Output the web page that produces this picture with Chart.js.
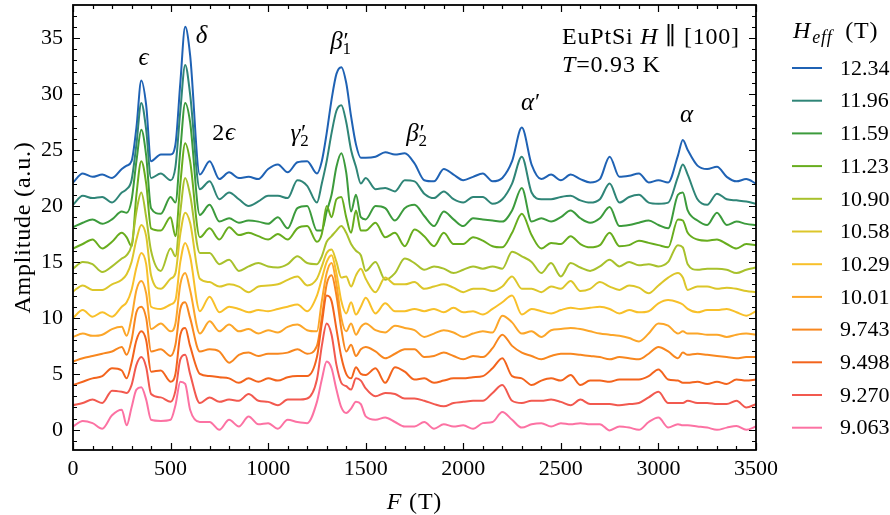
<!DOCTYPE html>
<html>
<head>
<meta charset="utf-8">
<script src="https://cdn.jsdelivr.net/npm/chart.js@4.4.0/dist/chart.umd.min.js"></script>
<style>
  html, body { margin: 0; padding: 0; background: #fff; }
</style>
</head>
<body>
<canvas id="fftChart" width="890" height="515"></canvas>
<script>
// frequency grid (T)
const freqs = [0, 50, 100, 150, 200, 250, 275, 300, 325, 350, 375, 400, 450, 500, 525, 550, 575, 600,
  650, 700, 750, 800, 850, 900, 950, 1000, 1050, 1100, 1150, 1200, 1250,
  1275, 1300, 1325, 1350, 1375, 1400, 1425, 1450, 1475, 1500,
  1550, 1600, 1650, 1700, 1750, 1800, 1850, 1900, 1950, 2000, 2050, 2100, 2150, 2200, 2250, 2300,
  2350, 2400, 2450, 2500, 2550, 2600, 2650, 2700, 2750, 2800, 2850, 2900, 2950, 3000, 3050, 3100,
  3125, 3150, 3200, 3250, 3300, 3350, 3400, 3450, 3500];

// field labels (legend)
const fields = ['12.34', '11.96', '11.59', '11.23', '10.90', '10.58', '10.29', '10.01', '9.743', '9.498', '9.270', '9.063'];
const colors = ['#1f62b4', '#2f8577', '#3c9b3c', '#68ad1e', '#a8c12c', '#dcc62a', '#f8c02a', '#fca629', '#f8871f', '#f3641d', '#f2594f', '#fc72a3'];

// FFT amplitudes (a.u., with vertical offsets as plotted)
const amp1234 = [22.1, 22.9, 22.6, 22.8, 22.5, 23.3, 23.6, 24.0, 27.0, 31.2, 29.0, 24.0, 24.6, 24.6, 25.5, 31.0, 36.0, 33.5,
  22.8, 24.0, 22.4, 23.0, 22.5, 22.6, 22.4, 23.3, 23.7, 23.0, 23.9, 24.0, 22.9,
  24.0, 26.5, 29.5, 31.8, 32.4, 31.0, 28.0, 25.5, 24.3, 24.3,
  24.4, 24.8, 24.6, 24.7, 23.8, 22.3, 22.2, 23.3, 22.8, 22.3, 22.6, 22.9, 22.2, 22.5, 24.0, 27.0,
  23.7, 22.4, 22.8, 22.3, 22.8, 22.4, 22.1, 22.4, 24.4, 22.6, 22.7, 22.9, 22.1, 22.3, 22.1, 24.5,
  25.9, 25.0, 23.6, 23.3, 23.5, 22.6, 22.2, 22.4, 22.0];
const amp1196 = [20.1, 20.9, 20.7, 20.8, 20.3, 21.2, 21.5, 22.3, 25.5, 29.2, 26.8, 22.5, 22.9, 22.3, 23.5, 28.5, 32.6, 30.0,
  21.5, 22.2, 20.6, 21.2, 20.6, 20.0, 20.4, 20.9, 20.9, 20.7, 22.3, 21.8, 20.3,
  22.0, 24.0, 26.5, 28.5, 29.0, 27.5, 25.0, 23.5, 22.0, 22.5,
  21.5, 21.6, 21.3, 22.3, 22.2, 21.1, 20.7, 21.3, 20.6, 20.3, 20.8, 20.8, 20.2, 20.6, 22.0, 24.4,
  21.2, 20.6, 20.6, 20.8, 20.9, 20.5, 20.3, 20.6, 22.0, 20.3, 20.8, 21.0, 20.3, 20.2, 20.3, 22.6,
  23.7, 22.8, 20.6, 20.1, 21.1, 20.6, 20.5, 20.4, 20.2];
const amp1159 = [18.1, 18.5, 18.8, 18.4, 18.8, 19.5, 19.4, 20.5, 24.0, 26.8, 24.5, 19.8, 19.3, 20.8, 20.3, 25.0, 29.2, 27.5,
  19.2, 20.1, 18.6, 18.9, 18.5, 18.7, 18.6, 18.4, 19.0, 18.0, 19.8, 20.0, 17.8,
  17.8, 19.5, 21.0, 23.5, 24.7, 23.0, 19.5, 21.0, 19.0, 18.8,
  20.0, 19.8, 18.7, 19.8, 20.1, 19.1, 18.2, 19.5, 18.8, 18.2, 18.9, 18.8, 18.7, 18.6, 19.6, 21.6,
  18.6, 18.9, 18.6, 19.0, 19.6, 18.9, 18.5, 18.9, 19.9, 18.2, 18.3, 18.5, 18.7, 18.3, 18.0, 21.0,
  21.2, 19.6, 18.7, 18.3, 19.4, 18.3, 18.6, 18.4, 18.3];
const amp1123 = [16.2, 16.6, 17.0, 16.2, 16.8, 17.6, 17.2, 16.4, 21.0, 24.0, 22.0, 18.0, 17.8, 19.0, 17.3, 22.0, 25.6, 24.0,
  17.2, 18.0, 17.0, 18.1, 17.4, 17.6, 17.3, 17.0, 17.5, 17.0, 18.0, 18.2, 16.8,
  17.5, 20.0, 19.0, 20.6, 20.8, 19.0, 17.6, 19.6, 17.8, 17.8,
  18.5, 17.2, 17.6, 16.4, 17.9, 17.3, 16.4, 17.6, 16.6, 16.6, 17.2, 16.9, 16.4, 16.3, 17.6, 19.3,
  17.4, 16.2, 16.7, 16.6, 17.3, 16.6, 16.3, 16.5, 17.6, 16.4, 16.5, 16.9, 16.7, 16.5, 16.3, 18.8,
  18.7, 17.6, 17.0, 16.9, 17.0, 16.6, 16.2, 16.6, 16.5];
const amp1090 = [14.4, 15.0, 14.8, 14.1, 14.6, 15.3, 15.6, 16.5, 19.5, 21.2, 19.0, 16.0, 14.2, 16.2, 15.5, 19.5, 22.5, 21.0,
  15.8, 15.8, 14.8, 15.2, 14.2, 14.6, 14.9, 14.6, 14.5, 14.8, 15.5, 14.9, 14.8,
  15.5, 16.8, 17.3, 17.8, 18.2, 17.6, 16.6, 16.0, 15.6, 14.2,
  15.0, 13.4, 14.0, 15.3, 14.9, 14.3, 14.6, 14.4, 14.0, 14.3, 14.6, 14.4, 14.6, 14.4, 15.9, 15.5,
  15.0, 14.0, 14.9, 13.7, 14.9, 14.5, 14.2, 14.6, 15.2, 14.6, 15.0, 14.7, 14.8, 14.6, 15.0, 16.5,
  16.3, 14.8, 14.3, 14.4, 14.4, 14.3, 14.0, 14.3, 14.5];
const amp1058 = [12.35, 12.9, 12.5, 12.5, 13.0, 13.4, 13.9, 15.0, 17.0, 18.3, 17.3, 13.8, 12.6, 13.5, 14.0, 17.5, 19.4, 18.5,
  13.5, 13.2, 12.8, 13.0, 12.8, 12.3, 12.8, 12.9, 13.0, 13.4, 13.7, 12.9, 13.5,
  14.6, 15.8, 16.1, 15.0, 13.6, 13.7, 12.8, 13.8, 14.4, 13.5,
  12.3, 13.6, 13.0, 13.0, 13.2, 12.6, 12.8, 13.0, 12.7, 12.3, 12.6, 12.6, 12.4, 12.8, 13.7, 12.6,
  12.6, 12.3, 12.8, 12.6, 13.3, 12.4, 12.6, 13.2, 12.8, 12.5, 12.9, 12.7, 12.2, 12.9, 13.6, 14.0,
  13.6, 12.5, 12.8, 12.8, 12.6, 12.7, 12.6, 12.4, 12.3];
const amp1029 = [10.0, 10.7, 10.1, 10.5, 10.1, 11.0, 11.4, 12.5, 14.5, 15.8, 14.8, 11.0, 10.8, 11.2, 11.6, 15.0, 16.7, 15.5,
  10.6, 11.9, 10.5, 11.0, 10.8, 10.5, 10.7, 10.6, 10.8, 11.0, 11.2, 10.6, 12.0,
  13.5, 15.0, 15.6, 14.0, 11.5, 10.4, 11.4, 10.3, 11.0, 11.8,
  10.4, 11.3, 10.6, 10.6, 10.8, 10.6, 10.8, 10.5, 10.9, 10.5, 10.6, 10.3, 10.8, 11.4, 12.0, 10.3,
  10.8, 10.6, 10.4, 10.7, 10.9, 10.8, 10.9, 11.0, 10.8, 10.4, 10.7, 10.5, 10.6, 11.3, 11.6, 11.4,
  11.2, 10.8, 10.5, 10.7, 10.7, 10.8, 10.5, 10.2, 10.6];
const amp1001 = [8.3, 8.6, 8.4, 8.5, 9.0, 9.2, 8.4, 10.0, 12.5, 13.3, 12.2, 9.0, 9.5, 8.8, 9.5, 13.0, 14.0, 12.5,
  8.6, 9.7, 8.8, 9.4, 8.8, 9.0, 8.6, 8.9, 8.7, 9.2, 9.4, 8.9, 8.8,
  11.5, 14.0, 14.9, 13.0, 10.0, 8.8, 9.5, 8.5, 9.2, 9.5,
  8.9, 8.7, 9.3, 9.1, 8.9, 8.3, 8.6, 8.9, 8.7, 8.3, 8.6, 8.8, 8.7, 10.2, 9.6, 8.6,
  8.8, 8.3, 8.9, 9.0, 9.1, 9.0, 8.8, 8.6, 8.5, 8.4, 8.2, 7.9, 8.6, 9.5, 9.3, 8.6,
  8.8, 8.6, 8.6, 8.5, 8.5, 8.3, 8.5, 8.6, 8.5];
const amp0974 = [6.1, 6.4, 6.6, 6.8, 7.0, 7.4, 6.7, 8.0, 10.5, 11.0, 10.0, 7.0, 7.2, 6.6, 7.6, 10.8, 11.4, 10.0,
  7.0, 7.2, 7.0, 6.0, 6.7, 6.9, 6.6, 6.8, 6.8, 6.9, 7.2, 6.8, 7.5,
  10.0, 13.0, 13.8, 12.0, 9.0, 7.0, 7.6, 6.6, 7.2, 7.4,
  7.0, 6.4, 6.8, 7.2, 7.2, 6.5, 6.6, 6.9, 6.6, 6.3, 6.6, 6.5, 7.3, 8.5, 7.5, 6.9,
  6.6, 6.3, 6.6, 6.8, 6.8, 6.7, 6.6, 6.5, 6.3, 6.5, 6.4, 6.3, 6.8, 7.4, 7.0, 6.4,
  6.9, 6.7, 6.8, 6.7, 6.6, 6.5, 6.4, 6.5, 6.5];
const amp0950 = [4.0, 4.3, 4.6, 4.8, 5.5, 5.3, 4.6, 6.0, 8.0, 8.8, 8.0, 5.2, 5.3, 4.3, 5.0, 8.5, 9.1, 7.5,
  5.0, 4.8, 4.7, 4.6, 4.2, 4.6, 4.3, 4.6, 4.4, 4.7, 4.8, 4.8, 6.5,
  9.5, 12.0, 11.5, 9.0, 6.5, 5.0, 4.6, 5.6, 5.0, 4.9,
  5.5, 4.2, 5.6, 5.2, 4.5, 4.6, 4.2, 4.4, 4.6, 4.6, 4.7, 4.8, 5.5, 6.4, 4.8, 4.6,
  4.0, 4.4, 4.6, 4.4, 4.9, 4.0, 4.4, 4.4, 4.3, 4.5, 4.5, 4.5, 4.8, 5.4, 4.5, 4.4,
  4.2, 4.2, 4.3, 4.1, 4.3, 4.1, 4.5, 4.4, 4.5];
const amp0927 = [2.2, 2.4, 2.7, 2.4, 3.5, 3.4, 3.3, 4.0, 5.8, 6.5, 5.6, 3.2, 2.9, 2.5, 3.5, 6.3, 6.7, 5.0,
  2.4, 2.9, 2.5, 2.7, 2.6, 3.2, 2.6, 2.5, 2.2, 2.7, 2.7, 2.8, 4.5,
  7.5, 9.5, 8.5, 5.8, 4.2, 3.9, 3.6, 4.6, 4.4, 3.7,
  3.0, 3.3, 3.2, 2.8, 2.8, 2.6, 2.3, 2.1, 2.4, 2.5, 2.6, 2.6, 3.3, 4.0, 2.6, 2.4,
  2.6, 2.6, 2.7, 2.5, 2.2, 2.7, 2.3, 2.3, 2.3, 2.2, 2.3, 2.4, 2.9, 3.4, 2.4, 2.4,
  2.4, 2.6, 2.4, 2.4, 2.3, 2.3, 2.6, 2.0, 2.3];
const amp0906 = [0.3, 0.8, 0.6, 0.1, 1.3, 1.8, 0.4, 2.0, 3.6, 3.8, 2.7, 0.9, 0.8, 0.9, 2.2, 4.3, 4.1, 1.8,
  0.7, 0.7, 0.0, 0.9, 0.3, 1.2, 0.5, 0.6, 0.1, 0.9, 0.7, 0.6, 2.5,
  4.5, 6.1, 5.5, 3.6, 2.0, 1.5, 1.9, 2.5, 2.3, 1.2,
  0.9, 1.1, 0.7, 0.3, 0.3, 0.7, 0.1, 0.5, 0.3, 0.4, 0.1, 0.6, 0.7, 1.6, 0.9, 0.2,
  0.5, 0.6, 0.3, 0.6, 0.5, 0.6, 0.5, 0.5, -0.05, 0.3, 0.2, 0.0, 0.7, 1.1, 0.2, 0.5,
  0.4, 0.4, 0.3, 0.2, 0.0, 0.2, 0.35, 0.0, 0.3];

const seriesList = [amp1234, amp1196, amp1159, amp1123, amp1090, amp1058, amp1029, amp1001, amp0974, amp0950, amp0927, amp0906];

// axis ticks
const xTicks = [0, 500, 1000, 1500, 2000, 2500, 3000, 3500];
const yTicks = [0, 5, 10, 15, 20, 25, 30, 35];

const serif = "'Liberation Serif', 'DejaVu Serif', serif";

// 글자 조각들을 이어서 그리는 함수 (이탤릭/첨자 섞기)
function drawPieces(ctx, pieces, x, y, align) {
    let total = 0;
    ctx.letterSpacing = '0.8px';
    pieces.forEach(p => {
        ctx.font = (p.it ? 'italic ' : '') + p.size + 'px ' + serif;
        p.w = ctx.measureText(p.t).width;
        total += p.w + (p.gap || 0);
    });
    let cx = align === 'center' ? x - total / 2 : (align === 'right' ? x - total : x);
    ctx.textAlign = 'left';
    ctx.textBaseline = 'alphabetic';
    pieces.forEach(p => {
        ctx.font = (p.it ? 'italic ' : '') + p.size + 'px ' + serif;
        ctx.fillText(p.t, cx + (p.gap || 0), y + (p.dy || 0));
        cx += p.w + (p.gap || 0);
    });
    ctx.letterSpacing = '0px';
}

// peak labels, placed in data coordinates
const peakLabels = [
    { f: 364, a: 32.6, pieces: [{ t: 'ϵ', it: true, size: 25 }] },
    { f: 661, a: 34.6, pieces: [{ t: 'δ', it: true, size: 25 }] },
    { f: 774, a: 25.9, pieces: [{ t: '2', size: 24 }, { t: 'ϵ', it: true, size: 25 }] },
    { f: 1163, a: 25.8, pieces: [{ t: 'γ', it: true, size: 25 }, { t: '′', size: 24, dy: -1 }, { t: '2', size: 17, dy: 5, gap: -7 }] },
    { f: 1373, a: 34.0, pieces: [{ t: 'β', it: true, size: 25 }, { t: '′', size: 24, dy: -1 }, { t: '1', size: 17, dy: 5, gap: -7 }] },
    { f: 1763, a: 25.8, pieces: [{ t: 'β', it: true, size: 25 }, { t: '′', size: 24, dy: -1 }, { t: '2', size: 17, dy: 5, gap: -7 }] },
    { f: 2347, a: 28.6, pieces: [{ t: 'α', it: true, size: 25 }, { t: '′', size: 24, dy: -1 }] },
    { f: 3146, a: 27.5, pieces: [{ t: 'α', it: true, size: 25 }] }
];

const decorPlugin = {
    id: 'decor',
    afterDraw(chart) {
        const ctx = chart.ctx;
        const area = chart.chartArea;
        const xs = chart.scales.x;
        const ys = chart.scales.y;
        ctx.save();
        ctx.strokeStyle = '#000';
        ctx.fillStyle = '#000';

        // inward ticks on all four sides
        ctx.lineWidth = 1.2;
        ctx.beginPath();
        for (let v = 0; v <= 3500; v += 100) {
            const px = Math.round(xs.getPixelForValue(v)) + 0.5;
            const len = v % 500 === 0 ? 7 : 4;
            ctx.moveTo(px, area.bottom); ctx.lineTo(px, area.bottom - len);
            ctx.moveTo(px, area.top); ctx.lineTo(px, area.top + len);
        }
        for (let v = -1; v <= 37; v += 1) {
            const py = Math.round(ys.getPixelForValue(v)) + 0.5;
            const len = v % 5 === 0 ? 7 : 4;
            ctx.moveTo(area.left, py); ctx.lineTo(area.left + len, py);
            ctx.moveTo(area.right, py); ctx.lineTo(area.right - len, py);
        }
        ctx.stroke();

        // frame
        ctx.lineWidth = 1.8;
        ctx.strokeRect(area.left, area.top, area.right - area.left, area.bottom - area.top);

        // axis titles
        drawPieces(ctx, [{ t: 'F', it: true, size: 24 }, { t: ' (T)', size: 24 }], (area.left + area.right) / 2, 509, 'center');
        ctx.save();
        ctx.translate(30, (area.top + area.bottom) / 2);
        ctx.rotate(-Math.PI / 2);
        drawPieces(ctx, [{ t: 'Amplitude (a.u.)', size: 24 }], 0, 0, 'center');
        ctx.restore();

        // sample info
        drawPieces(ctx, [{ t: 'EuPtSi ', size: 24 }, { t: 'H', it: true, size: 24 }, { t: ' ∥ [100]', size: 24 }], 562, 44, 'left');
        drawPieces(ctx, [{ t: 'T', it: true, size: 24 }, { t: '=0.93 K', size: 24 }], 562, 72, 'left');

        // peak labels
        peakLabels.forEach(l => {
            drawPieces(ctx, l.pieces, xs.getPixelForValue(l.f), ys.getPixelForValue(l.a), 'center');
        });

        // legend
        drawPieces(ctx, [{ t: 'H', it: true, size: 24 }, { t: 'eff', it: true, size: 18, dy: 5, gap: 1 }, { t: ' (T)', size: 24, gap: 6 }], 793, 38, 'left');
        fields.forEach((lab, i) => {
            const y = 68 + i * 32.7;
            ctx.strokeStyle = colors[i];
            ctx.lineWidth = 2;
            ctx.beginPath();
            ctx.moveTo(792, y); ctx.lineTo(822, y);
            ctx.stroke();
            ctx.fillStyle = '#000';
            ctx.font = '22px ' + serif;
            ctx.textAlign = 'left';
            ctx.textBaseline = 'middle';
            ctx.fillText(lab, 840, y + 1);
        });
        ctx.restore();
    }
};

const datasets = seriesList.map((vals, i) => ({
    label: fields[i],
    data: vals.map((v, k) => ({ x: freqs[k], y: v })),
    borderColor: colors[i],
    borderWidth: 2,
    pointRadius: 0,
    fill: false,
    cubicInterpolationMode: 'monotone',
    order: seriesList.length - 1 - i
}));

const chart = new Chart(document.getElementById('fftChart').getContext('2d'), {
    type: 'line',
    data: { datasets: datasets },
    options: {
        responsive: false,
        animation: false,
        events: [],
        layout: { padding: { top: 5, right: 134, left: 0, bottom: 0 } },
        plugins: { legend: { display: false }, tooltip: { enabled: false } },
        scales: {
            x: {
                type: 'linear', min: 0, max: 3500,
                afterBuildTicks: s => { s.ticks = xTicks.map(v => ({ value: v })); },
                ticks: { color: '#000', font: { family: serif, size: 22 }, padding: 6, maxRotation: 0, callback: v => String(v) },
                grid: { display: false, drawTicks: false },
                border: { display: false },
                afterFit: s => { s.height = 65; s.paddingLeft = 0; s.paddingRight = 0; }
            },
            y: {
                type: 'linear', min: -1.8, max: 37.95,
                afterBuildTicks: s => { s.ticks = yTicks.map(v => ({ value: v })); },
                ticks: { color: '#000', font: { family: serif, size: 22 }, padding: 10, callback: v => String(v) },
                grid: { display: false, drawTicks: false },
                border: { display: false },
                afterFit: s => { s.width = 73; s.paddingTop = 0; s.paddingBottom = 0; }
            }
        }
    },
    plugins: [decorPlugin]
});
</script>
</body>
</html>
